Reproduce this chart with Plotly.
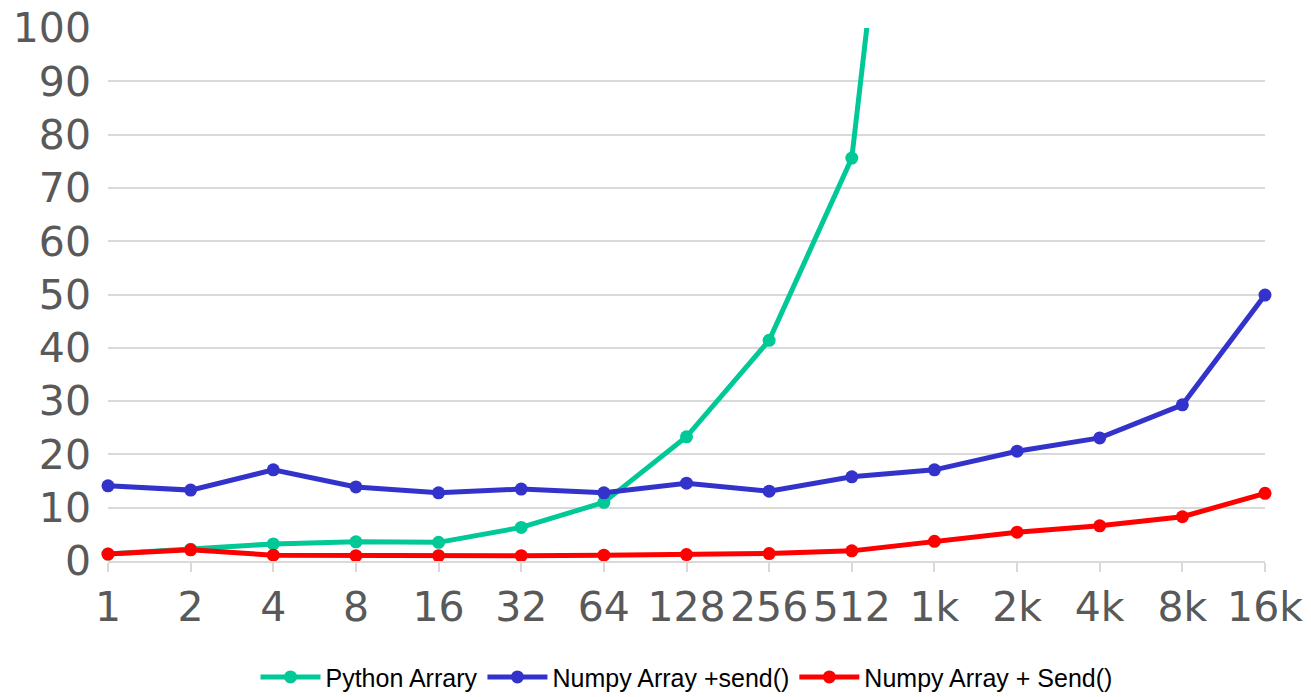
import plotly.graph_objects as go

# Array sizes on the category axis
sizes = ["1", "2", "4", "8", "16", "32", "64", "128", "256", "512",
         "1k", "2k", "4k", "8k", "16k"]

# Timings per series (same units as the y axis)
python_array = [1.3, 2.2, 3.2, 3.6, 3.5, 6.3, 11.0, 23.3, 41.4, 75.6,
                210.0, None, None, None, None]
numpy_send_lower = [14.1, 13.3, 17.1, 13.9, 12.8, 13.5, 12.8, 14.6, 13.1,
                    15.8, 17.1, 20.6, 23.1, 29.3, 49.9]
numpy_send_upper = [1.3, 2.1, 1.1, 1.0, 1.0, 1.0, 1.1, 1.2, 1.4, 1.9,
                    3.7, 5.4, 6.6, 8.3, 12.7]

series = [
    ("Python Arrary", python_array, "#00c896"),
    ("Numpy Array +send()", numpy_send_lower, "#3333cc"),
    ("Numpy Array + Send()", numpy_send_upper, "#ff0000"),
]

fig = go.Figure()
for name, vals, color in series:
    fig.add_trace(go.Scatter(
        x=sizes, y=vals, name=name, mode="lines+markers",
        line=dict(color=color, width=5),
        marker=dict(color=color, size=13),
        connectgaps=False,
        cliponaxis=False,
    ))

fig.update_layout(
    width=1311, height=697,
    margin=dict(l=108, r=46, t=28, b=136, autoexpand=False),
    paper_bgcolor="white", plot_bgcolor="white",
    font=dict(family="DejaVu Sans", color="#595959"),
    showlegend=True,
    legend=dict(
        orientation="h", x=0.5, xanchor="center", y=-0.218, yanchor="middle",
        font=dict(family="Liberation Sans", size=25, color="#000000"),
        itemwidth=60,
    ),
)

fig.update_xaxes(
    type="category", range=[0, 14], automargin=False,
    showgrid=False, showline=True, linecolor="#d9d9d9", linewidth=2,
    ticks="outside", ticklen=9, tickcolor="#d9d9d9", tickwidth=2,
    tickfont=dict(size=41, color="#595959"),
)
fig.update_yaxes(
    range=[0, 100], dtick=10, tick0=0, automargin=False,
    showgrid=True, gridcolor="#d9d9d9", gridwidth=2,
    zeroline=False, showline=False, ticks="",
    ticklabelstandoff=16,
    tickfont=dict(size=41, color="#595959"),
)

fig.write_html("out.html")
